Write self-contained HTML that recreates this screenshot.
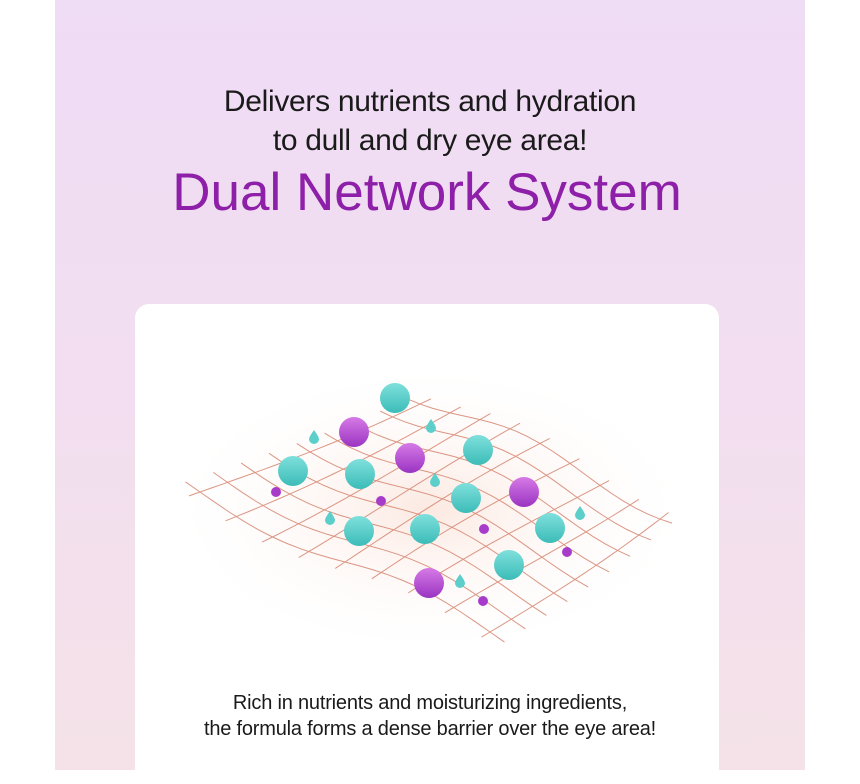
<!DOCTYPE html>
<html><head><meta charset="utf-8"><style>
body{margin:0;width:860px;height:770px;background:#fff;position:relative;overflow:hidden;font-family:"Liberation Sans",Arial,sans-serif}
.panel{position:absolute;left:55px;top:0;width:750px;height:770px;background:linear-gradient(180deg,#efdcf5 0%,#f2def0 50%,#f4e2e8 100%)}
.card{position:absolute;left:135px;top:304px;width:584px;height:480px;background:#fff;border-radius:14px}
.t{position:absolute;left:55px;width:750px;text-align:center;color:#1a1a1a}
</style></head><body>
<div class="panel"></div>
<div class="card"></div>
<div class="t" style="top:82px;font-size:30px;line-height:39px;letter-spacing:-0.3px">Delivers nutrients and hydration<br>to dull and dry eye area!</div>
<div class="t" style="top:162px;font-size:53px;line-height:62px;color:#8d1fa8;left:52px">Dual Network System</div>
<svg style="position:absolute;left:0;top:0" width="860" height="770">
<defs>
<radialGradient id="bg" cx="50%" cy="50%" r="50%"><stop offset="0" stop-color="#fbe3da" stop-opacity=".8"/><stop offset="1" stop-color="#fff" stop-opacity="0"/></radialGradient>
<linearGradient id="tl" x1="0" y1="0" x2="0" y2="1"><stop offset="0" stop-color="#7fe0dc"/><stop offset="1" stop-color="#3cbcb8"/></linearGradient>
<linearGradient id="pu" x1="0" y1="0" x2="0" y2="1"><stop offset="0" stop-color="#d67ae6"/><stop offset="1" stop-color="#9a34c2"/></linearGradient>
</defs>
<ellipse cx="430" cy="510" rx="270" ry="150" fill="url(#bg)"/>
<g id="mesh" stroke="#d27d66" stroke-width="1" fill="none" opacity=".8"></g>
<g id="dots"></g>
</svg>
<div class="t" style="top:690px;font-size:20px;line-height:26px;letter-spacing:-0.2px">Rich in nutrients and moisturizing ingredients,<br>the formula forms a dense barrier over the eye area!</div>
<script>
var L=[200,492],T=[420,395],R=[660,510],B=[490,632];
function P(u,v){var x=L[0]+(T[0]-L[0])*u+(B[0]-L[0])*v+(R[0]-T[0]-B[0]+L[0])*u*v;
var y=L[1]+(T[1]-L[1])*u+(B[1]-L[1])*v+(R[1]-T[1]-B[1]+L[1])*u*v;y+=10*Math.sin(v*Math.PI*2+u*2);return x+','+y}
var m=document.getElementById('mesh'),s='';
for(var i=0;i<=8;i++){var u=i/8,d='M',e='M';for(var k=-1;k<=21;k++){var t=k/20;d+=P(u,t)+' ';e+=P(t,u)+' ';}
s+='<path d="'+d+'"/><path d="'+e+'"/>';}
m.innerHTML=s;
var g='',tl=[[395,398],[293,471],[360,474],[478,450],[466,498],[359,531],[425,529],[550,528],[509,565]],
pu=[[354,432],[410,458],[524,492],[429,583]],sm=[[276,492],[381,501],[484,529],[567,552],[483,601]],
dr=[[314,437],[431,426],[435,480],[330,518],[460,581],[580,513]];
tl.forEach(function(c){g+='<circle cx="'+c[0]+'" cy="'+c[1]+'" r="15" fill="url(#tl)"/>'});
pu.forEach(function(c){g+='<circle cx="'+c[0]+'" cy="'+c[1]+'" r="15" fill="url(#pu)"/>'});
sm.forEach(function(c){g+='<circle cx="'+c[0]+'" cy="'+c[1]+'" r="5" fill="#a73ccb"/>'});
dr.forEach(function(c){var x=c[0],y=c[1];g+='<path d="M'+x+','+(y-7)+' Q'+(x+5)+','+(y)+' '+(x+5)+','+(y+2)+' A5,5 0 0 1 '+(x-5)+','+(y+2)+' Q'+(x-5)+','+y+' '+x+','+(y-7)+'Z" fill="#5ccfcb"/>'});
document.getElementById('dots').innerHTML=g;
</script>
</body></html>
